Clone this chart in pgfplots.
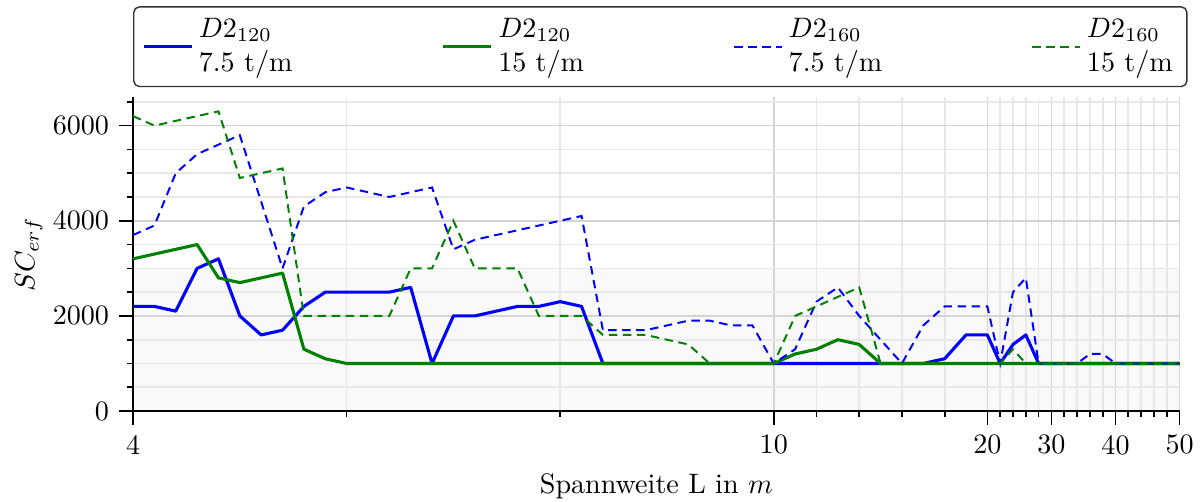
\documentclass[border=0pt]{standalone}
\usepackage{pgfplots}
\pgfplotsset{compat=1.18}
\usepackage{pgfplotstable}
% u = position on the (piecewise) x axis, L = span in m
\pgfplotstableread{
u    L    b1   g1   b2   g2
0    4.0  2200 3200 3700 6200
1    4.2  2200 3300 3900 6000
2    4.4  2100 3400 5000 6100
3    4.6  3000 3500 5400 6200
4    4.8  3200 2800 5600 6300
5    5.0  2000 2700 5800 4900
6    5.2  1600 2800 4400 5000
7    5.4  1700 2900 3000 5100
8    5.6  2200 1300 4300 2000
9    5.8  2500 1100 4600 2000
10   6.0  2500 1000 4700 2000
11   6.2  2500 1000 4600 2000
12   6.4  2500 1000 4500 2000
13   6.6  2600 1000 4600 3000
14   6.8  1000 1000 4700 3000
15   7.0  2000 1000 3400 4000
16   7.2  2000 1000 3600 3000
17   7.4  2100 1000 3700 3000
18   7.6  2200 1000 3800 3000
19   7.8  2200 1000 3900 2000
20   8.0  2300 1000 4000 2000
21   8.2  2200 1000 4100 2000
22   8.4  1000 1000 1700 1600
23   8.6  1000 1000 1700 1600
24   8.8  1000 1000 1700 1600
25   9.0  1000 1000 1800 1500
26   9.2  1000 1000 1900 1400
27   9.4  1000 1000 1900 1000
28   9.6  1000 1000 1800 1000
29   9.8  1000 1000 1800 1000
30   10   1000 1000 1000 1000
31   11   1000 1200 1300 2000
32   12   1000 1300 2300 2200
33   13   1000 1500 2600 2400
34   14   1000 1400 2000 2600
35   15   1000 1000 1500 1000
36   16   1000 1000 1000 1000
37   17   1000 1000 1800 1000
38   18   1100 1000 2200 1000
39   19   1600 1000 2200 1000
40   20   1600 1000 2200 1000
40.6 22   1000 1000 1000 1000
41.2 24   1400 1000 2500 1300
41.8 26   1600 1000 2800 1000
42.4 28   1000 1000 1000 1000
43.0 30   1000 1000 1000 1000
43.6 32   1000 1000 1000 1000
44.2 34   1000 1000 1000 1000
44.8 36   1000 1000 1200 1000
45.4 38   1000 1000 1200 1000
46.0 40   1000 1000 1000 1000
46.6 42   1000 1000 1000 1000
47.2 44   1000 1000 1000 1000
47.8 46   1000 1000 1000 1000
48.4 48   1000 1000 1000 1000
49.0 50   1000 1000 1000 1000
}\datatable
\definecolor{dgreen}{RGB}{0,128,0}
\tikzset{mydash/.style={dash pattern=on 3pt off 2pt}}
\begin{document}
\begin{tikzpicture}
\begin{axis}[
  set layers=standard,
  scale only axis,
  width=372.3pt, height=111.7pt,
  xmin=0, xmax=49, ymin=0, ymax=6600,
  axis x line*=bottom, axis y line*=left,
  axis line style={black, line width=0.7pt, -},
  xtick={0,30,40,43,46,49},
  xticklabels={4,10,20,30,40,50},
  minor xtick={10,20,32,34,36,38,40.6,41.2,41.8,42.4,43.6,44.2,44.8,45.4,46.6,47.2,47.8,48.4},
  ytick={0,2000,4000,6000},
  minor ytick={500,1000,1500,2500,3000,3500,4500,5000,5500,6500},
  scaled y ticks=false,
  yticklabel style={/pgf/number format/1000 sep={}},
  grid=both,
  major grid style={line width=0.6pt, draw=black!17},
  minor grid style={line width=0.6pt, draw=black!9},
  tick align=outside,
  major tick length=5pt, minor tick length=2pt,
  every tick/.style={black, line width=0.6pt},
  xlabel={Spannweite L in $m$},
  xlabel style={inner ysep=1pt, yshift=-2.3pt},
  ylabel={$SC_{erf}$},
  ylabel style={yshift=-3.2pt},
  legend columns=4,
  legend cell align=left,
  legend style={at={(0,1)}, anchor=south west, yshift=3.5pt,
    draw=black!80, line width=0.5pt, rounded corners=2pt,
    cells={align=left},
    /tikz/every even column/.append style={column sep=51pt}},
]
\addplot[on layer=axis background, fill=black!2.5, draw=none, forget plot]
  coordinates {(0,3000) (49,3000)} \closedcycle;
\addplot[color=blue, line width=1.1pt, line join=round] table[x=u, y=b1] {\datatable};
\addlegendentry{$D2_{120}$\\7.5 t/m}
\addplot[color=dgreen, line width=1.1pt, line join=round] table[x=u, y=g1] {\datatable};
\addlegendentry{$D2_{120}$\\15 t/m}
\addplot[color=blue, draw=blue, line width=0.7pt, mydash] table[x=u, y=b2] {\datatable};
\addlegendentry{$D2_{160}$\\7.5 t/m}
\addplot[color=dgreen, draw=dgreen, line width=0.7pt, mydash] table[x=u, y=g2] {\datatable};
\addlegendentry{$D2_{160}$\\15 t/m}
\end{axis}
\path ([yshift=2.2pt]current bounding box.north);
\path ([xshift=-2.1pt]current bounding box.west);
\end{tikzpicture}
\end{document}
